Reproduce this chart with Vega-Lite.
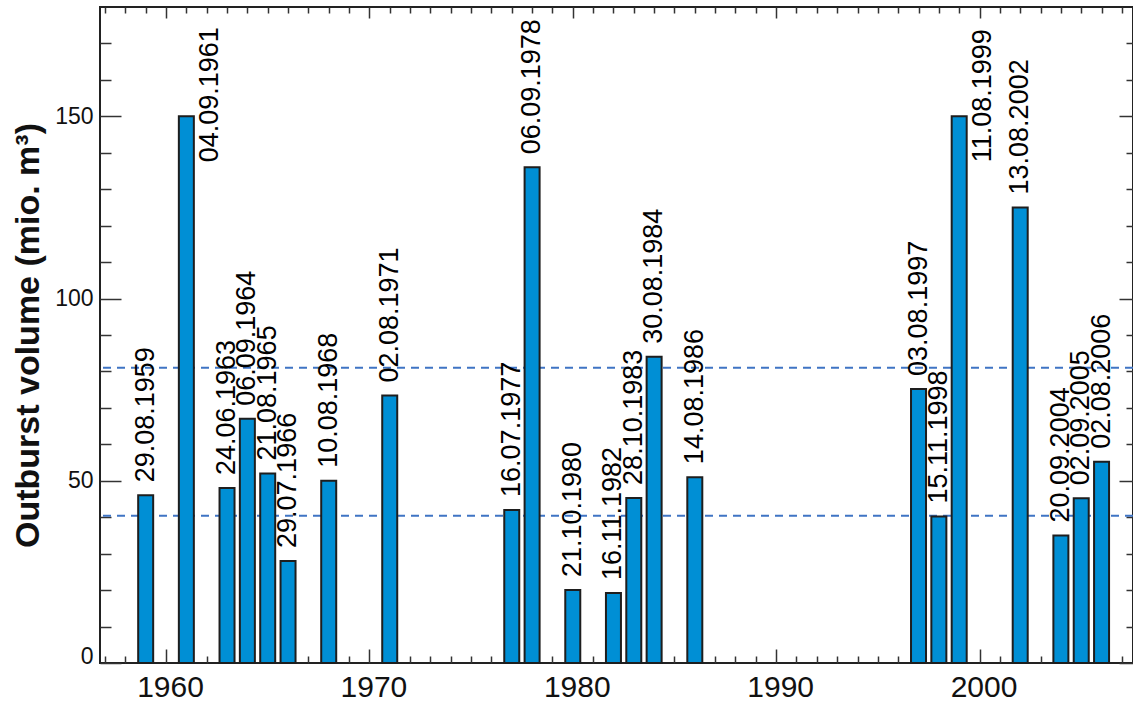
{
  "$schema": "https://vega.github.io/schema/vega-lite/v6.json",
  "width": 1033,
  "height": 656,
  "autosize": "none",
  "padding": {"left": 100, "top": 7, "right": 0, "bottom": 40},
  "background": "white",
  "config": {
    "view": {"stroke": "#222222", "strokeWidth": 2},
    "font": "Liberation Sans",
    "axis": {"domain": false, "grid": false, "tickColor": "#333333", "tickWidth": 1.5, "title": null}
  },
  "data": {
    "values": [
      {"year": 1959, "volume": 46, "date": "29.08.1959"},
      {"year": 1961, "volume": 150, "date": "04.09.1961"},
      {"year": 1963, "volume": 48, "date": "24.06.1963"},
      {"year": 1964, "volume": 67, "date": "06.09.1964"},
      {"year": 1965, "volume": 52, "date": "21.08.1965"},
      {"year": 1966, "volume": 28, "date": "29.07.1966"},
      {"year": 1968, "volume": 50, "date": "10.08.1968"},
      {"year": 1971, "volume": 73.4, "date": "02.08.1971"},
      {"year": 1977, "volume": 42, "date": "16.07.1977"},
      {"year": 1978, "volume": 136, "date": "06.09.1978"},
      {"year": 1980, "volume": 20, "date": "21.10.1980"},
      {"year": 1982, "volume": 19.2, "date": "16.11.1982"},
      {"year": 1983, "volume": 45.3, "date": "28.10.1983"},
      {"year": 1984, "volume": 84, "date": "30.08.1984"},
      {"year": 1986, "volume": 51, "date": "14.08.1986"},
      {"year": 1997, "volume": 75.2, "date": "03.08.1997"},
      {"year": 1998, "volume": 40.2, "date": "15.11.1998"},
      {"year": 1999, "volume": 150, "date": "11.08.1999"},
      {"year": 2002, "volume": 125, "date": "13.08.2002"},
      {"year": 2004, "volume": 35, "date": "20.09.2004"},
      {"year": 2005, "volume": 45.2, "date": "02.09.2005"},
      {"year": 2006, "volume": 55.2, "date": "02.08.2006"}
    ]
  },
  "layer": [
    {
      "data": {"values": [{"level": 40.4}, {"level": 81}]},
      "mark": {"type": "rule", "color": "#3f74c4", "strokeDash": [8, 6], "strokeWidth": 2},
      "encoding": {
        "y": {
          "field": "level", "type": "quantitative",
          "scale": {"domain": [0, 180], "nice": false},
          "axis": {"orient": "left", "values": [10,20,30,40,60,70,80,90,110,120,130,140,160,170], "labels": false, "tickSize": -11}
        }
      }
    },
    {
      "mark": {"type": "bar", "size": 15, "fill": "#008fd5", "stroke": "#1e1e1e", "strokeWidth": 2},
      "encoding": {
        "x": {
          "field": "year", "type": "quantitative",
          "scale": {"domain": [1957, 2007.3], "nice": false, "zero": false},
          "axis": {
            "orient": "bottom",
            "values": [1960, 1970, 1980, 1990, 2000],
            "format": "d",
            "labelOverlap": false,
            "labelFlush": false,
            "labelFont": "Liberation Sans Narrow, Liberation Sans",
            "labelFontSize": 30,
            "labelColor": "#111111",
            "labelPadding": 23,
            "labelOffset": 4,
            "tickSize": -14
          }
        },
        "y": {
          "field": "volume", "type": "quantitative",
          "scale": {"domain": [0, 180], "nice": false},
          "axis": {
            "orient": "left",
            "values": [0, 50, 100, 150],
            "labelOverlap": false,
            "labelFlush": false,
            "labelFontSize": 23,
            "labelColor": "#111111",
            "labelPadding": 28,
            "labelBaseline": {"condition": {"test": "datum.value === 0", "value": "alphabetic"}, "value": "middle"},
            "tickSize": -21,
            "title": "Outburst volume (mio. m³)",
            "titleFontSize": 34,
            "titleFontWeight": "bold",
            "titleColor": "#111111",
            "titleX": -72,
            "titleY": 328,
            "titleAlign": "center",
            "titleBaseline": "middle",
            "titleAngle": -90
          }
        }
      }
    },
    {
      "transform": [{"filter": "datum.volume < 150"}],
      "mark": {"type": "text", "angle": 270, "align": "left", "baseline": "middle", "dx": 13, "fontSize": 27, "color": "#000000"},
      "encoding": {
        "x": {
          "field": "year", "type": "quantitative",
          "scale": {"domain": [1957, 2007.3], "nice": false, "zero": false},
          "axis": {"orient": "bottom", "values": [1957,1958,1959,1961,1962,1963,1964,1965,1966,1967,1968,1969,1971,1972,1973,1974,1975,1976,1977,1978,1979,1981,1982,1983,1984,1985,1986,1987,1988,1989,1991,1992,1993,1994,1995,1996,1997,1998,1999,2001,2002,2003,2004,2005,2006,2007], "labels": false, "tickSize": -7}
        },
        "y": {
          "field": "volume", "type": "quantitative",
          "scale": {"domain": [0, 180], "nice": false},
          "axis": {"orient": "right", "values": [0, 50, 100, 150], "labels": false, "tickSize": -14}
        },
        "text": {"field": "date"}
      }
    },
    {
      "transform": [{"filter": "datum.volume >= 150"}],
      "mark": {"type": "text", "angle": 270, "align": "left", "baseline": "middle", "dx": -46, "dy": 24, "fontSize": 27, "color": "#000000"},
      "encoding": {
        "x": {
          "field": "year", "type": "quantitative",
          "scale": {"domain": [1957, 2007.3], "nice": false, "zero": false},
          "axis": {"orient": "top", "values": [1960, 1970, 1980, 1990, 2000], "labels": false, "tickSize": -11}
        },
        "y": {
          "field": "volume", "type": "quantitative",
          "scale": {"domain": [0, 180], "nice": false},
          "axis": {"orient": "right", "values": [10,20,30,40,60,70,80,90,110,120,130,140,160,170], "labels": false, "tickSize": -7}
        },
        "text": {"field": "date"}
      }
    },
    {
      "mark": {"type": "point", "opacity": 0},
      "encoding": {
        "x": {
          "field": "year", "type": "quantitative",
          "scale": {"domain": [1957, 2007.3], "nice": false, "zero": false},
          "axis": {"orient": "top", "values": [1957,1958,1959,1961,1962,1963,1964,1965,1966,1967,1968,1969,1971,1972,1973,1974,1975,1976,1977,1978,1979,1981,1982,1983,1984,1985,1986,1987,1988,1989,1991,1992,1993,1994,1995,1996,1997,1998,1999,2001,2002,2003,2004,2005,2006,2007], "labels": false, "tickSize": -6}
        },
        "y": {
          "field": "volume", "type": "quantitative",
          "scale": {"domain": [0, 180], "nice": false},
          "axis": null
        }
      }
    }
  ],
  "resolve": {"axis": {"x": "independent", "y": "independent"}}
}
